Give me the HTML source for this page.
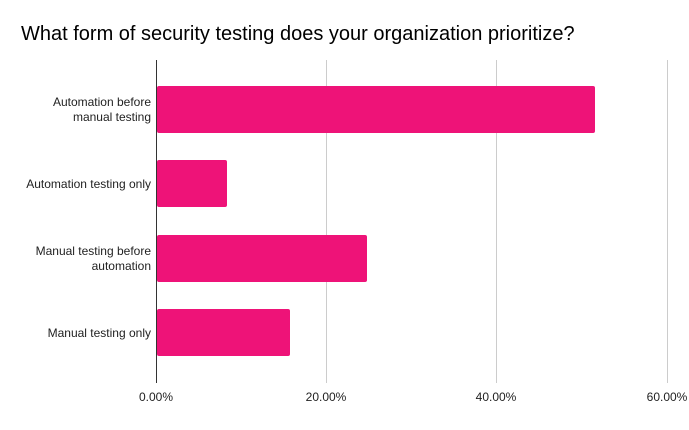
<!DOCTYPE html>
<html><head><style>body{margin:0;background:#fff}</style></head><body>
<svg width="689" height="425" xmlns="http://www.w3.org/2000/svg" font-family="Liberation Sans, Arial, sans-serif">
<rect width="689" height="425" fill="#fff"/>
<text x="21" y="40" font-size="20" fill="#000">What form of security testing does your organization prioritize?</text>
<g stroke="#ccc" stroke-width="1">
<line x1="326.5" y1="60" x2="326.5" y2="383"/>
<line x1="496.5" y1="60" x2="496.5" y2="383"/>
<line x1="667.5" y1="60" x2="667.5" y2="383"/>
</g>
<g fill="#ee1378">
<rect x="157" y="86" width="438" height="47" rx="2"/>
<rect x="157" y="160" width="70" height="47" rx="2"/>
<rect x="157" y="235" width="210" height="47" rx="2"/>
<rect x="157" y="309" width="133" height="47" rx="2"/>
</g>
<line x1="156.5" y1="60" x2="156.5" y2="383" stroke="#333" stroke-width="1"/>
<g font-size="12" fill="#222" text-anchor="end">
<text x="151" y="106">Automation before</text>
<text x="151" y="121">manual testing</text>
<text x="151" y="188">Automation testing only</text>
<text x="151" y="255">Manual testing before</text>
<text x="151" y="270">automation</text>
<text x="151" y="337">Manual testing only</text>
</g>
<g font-size="12" fill="#222" text-anchor="middle">
<text x="156" y="401">0.00%</text>
<text x="326" y="401">20.00%</text>
<text x="496" y="401">40.00%</text>
<text x="667" y="401">60.00%</text>
</g>
</svg>
</body></html>
